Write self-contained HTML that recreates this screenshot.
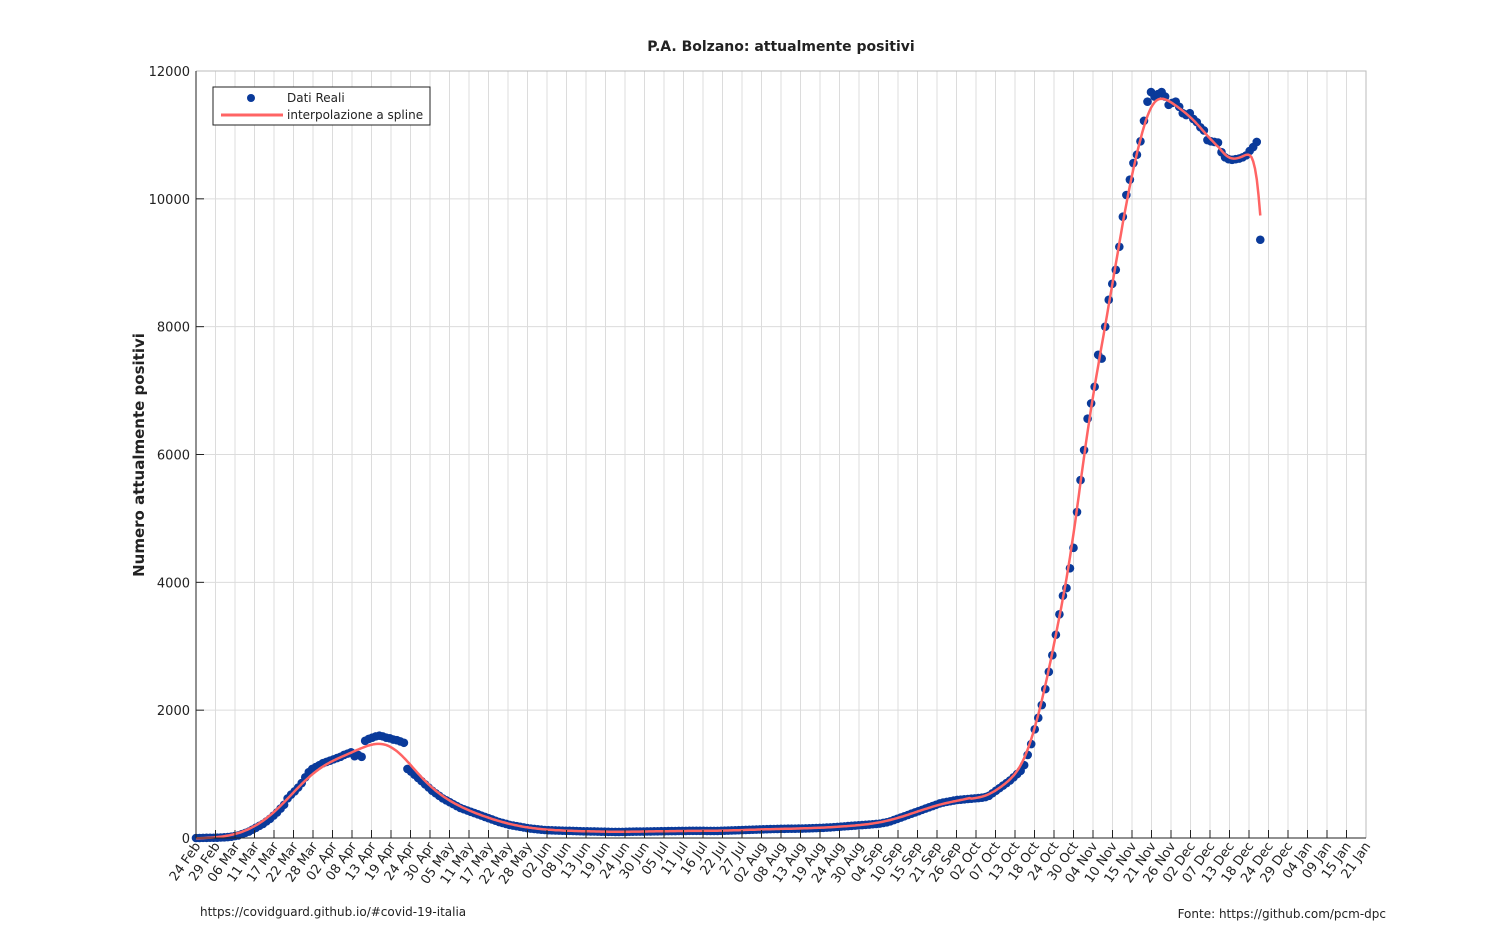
<!DOCTYPE html>
<html><head><meta charset="utf-8"><style>
html,body{margin:0;padding:0;background:#fff;}
svg{display:block;font-family:"DejaVu Sans","Liberation Sans",sans-serif;}
</style></head><body>
<svg id="chart" width="1511" height="942" viewBox="0 0 1511 942" xmlns="http://www.w3.org/2000/svg">
<rect x="0" y="0" width="1511" height="942" fill="#fff"/>
<text x="781" y="51" text-anchor="middle" font-size="14" font-weight="bold" fill="#222">P.A. Bolzano: attualmente positivi</text>
<text transform="translate(144,455) rotate(-90)" text-anchor="middle" font-size="15" font-weight="bold" fill="#222">Numero attualmente positivi</text>
<g id="grid"></g>
<g id="series"></g>
<g id="axes"></g>
<g>
<rect x="213" y="87" width="217" height="38" fill="#fff" stroke="#222" stroke-width="1"/>
<circle cx="251" cy="98" r="4" fill="#0a3a9a"/>
<text x="287" y="102" font-size="12" fill="#222">Dati Reali</text>
<line x1="221" y1="115" x2="283" y2="115" stroke="#ff6464" stroke-width="3"/>
<text x="287" y="119" font-size="12" fill="#222">interpolazione a spline</text>
</g>
<text x="200" y="916" font-size="12" fill="#222">https://covidguard.github.io/#covid-19-italia</text>
<text x="1386" y="918" text-anchor="end" font-size="12" fill="#222">Fonte: https://github.com/pcm-dpc</text>
</svg>
<script>
const xTickLabels = ["24 Feb","29 Feb","06 Mar","11 Mar","17 Mar","22 Mar","28 Mar","02 Apr","08 Apr","13 Apr","19 Apr","24 Apr","30 Apr","05 May","11 May","17 May","22 May","28 May","02 Jun","08 Jun","13 Jun","19 Jun","24 Jun","30 Jun","05 Jul","11 Jul","16 Jul","22 Jul","27 Jul","02 Aug","08 Aug","13 Aug","19 Aug","24 Aug","30 Aug","04 Sep","10 Sep","15 Sep","21 Sep","26 Sep","02 Oct","07 Oct","13 Oct","18 Oct","24 Oct","30 Oct","04 Nov","10 Nov","15 Nov","21 Nov","26 Nov","02 Dec","07 Dec","13 Dec","18 Dec","24 Dec","29 Dec","04 Jan","09 Jan","15 Jan","21 Jan"];
const yTickValues = [0,2000,4000,6000,8000,10000,12000];
const datiReali = [
0,0,2,3,4,4,5,8,10,15,
20,30,40,60,80,100,130,160,190,220,
260,300,350,400,460,520,620,680,730,790,
860,950,1030,1080,1110,1140,1170,1190,1210,1230,
1250,1270,1300,1320,1340,1280,1300,1270,1520,1550,
1570,1590,1600,1590,1570,1560,1540,1530,1510,1490,
1080,1040,990,940,890,840,790,740,700,660,
620,590,560,530,500,470,450,430,410,390,
370,350,330,310,290,270,250,235,220,205,
195,185,175,165,155,148,142,136,130,125,
122,120,118,116,115,113,112,110,108,106,
105,104,103,102,100,99,98,97,96,95,
95,96,97,98,99,100,100,101,102,103,
104,105,106,107,108,108,109,110,110,111,
112,112,113,113,112,111,110,110,111,112,
114,116,118,120,122,124,126,128,130,132,
134,136,138,140,141,142,143,144,145,145,
146,147,148,150,152,154,156,158,160,163,
166,170,174,178,182,186,190,194,198,202,
206,210,215,220,225,235,245,260,280,300,
320,340,360,380,400,420,440,460,480,500,
520,540,555,565,575,585,595,600,605,610,
615,620,625,630,640,660,700,740,780,820,
860,900,950,1000,1050,1140,1300,1470,1700,1880,
2080,2330,2600,2860,3180,3500,3790,3910,4220,4540,
5100,5600,6070,6560,6800,7060,7560,7500,8000,8420,
8670,8890,9250,9720,10060,10300,10560,10690,10900,11220,
11520,11670,11600,11640,11670,11600,11470,11500,11520,11440,
11340,11310,11340,11250,11200,11120,11070,10920,10900,10890,
10880,10730,10650,10620,10610,10620,10630,10650,10680,10750,
10810,10890,9360];
const xDomainDays = 332;
const yDomainMax = 12000;

const NS = "http://www.w3.org/2000/svg";
const L = 196, R = 1366, T = 71, B = 838;
function xScale(d){ return L + d/xDomainDays*(R-L); }
function yScale(v){ return B - v/yDomainMax*(B-T); }
function mk(tag, attrs, parent){ const e=document.createElementNS(NS,tag); for(const k in attrs) e.setAttribute(k,attrs[k]); parent.appendChild(e); return e; }
const grid=document.getElementById('grid'), axes=document.getElementById('axes'), series=document.getElementById('series');
const nT = xTickLabels.length;
for(let i=0;i<nT;i++){
  const x = L + i*(R-L)/(nT-1);
  const gl = mk('line',{x1:x,y1:T,x2:x,y2:B,stroke:'#dcdcdc','stroke-width':1},grid);
  
  
  const tk = mk('line',{x1:x,y1:B,x2:x,y2:B-8,stroke:'#222','stroke-width':1},axes);
  
  
  const t = mk('text',{transform:`translate(${x+5},${B+8}) rotate(-55)`,'text-anchor':'end','font-size':13,fill:'#222'},axes);
  t.textContent = xTickLabels[i];
  
  
}
for(const v of yTickValues){
  const y = yScale(v);
  const gl = mk('line',{x1:L,y1:y,x2:R,y2:y,stroke:'#dcdcdc','stroke-width':1},grid);
  
  
  const tk = mk('line',{x1:L,y1:y,x2:L+8,y2:y,stroke:'#222','stroke-width':1},axes);
  
  
  const t = mk('text',{x:L-6,y:y+5,'text-anchor':'end','font-size':13,fill:'#222'},axes);
  t.textContent = String(v);
  
  
}
const frame = mk('path',{d:`M${L},${T}H${R}V${B}`,fill:'none',stroke:'#bbb','stroke-width':1},axes);


const ax = mk('path',{d:`M${L},${T}V${B}H${R}`,fill:'none',stroke:'#222','stroke-width':1},axes);



datiReali.forEach((v,d)=>{
  const c = mk('circle',{cx:xScale(d),cy:yScale(v),r:4.3,fill:'#0a3a9a'},series);
  
  
});
const n = datiReali.length;
let pts = [];
for(let s=0; s<=(n-1)*2; s++){
  const x0 = s/2;
  const sig = x0 < 220 ? 5 : (x0 < 290 ? 2.5 : 1.6);
  let sw=0,sx=0,sy=0,sxx=0,sxy=0;
  for(let d=0; d<n; d++){
    const w = Math.exp(-((d-x0)*(d-x0))/(2*sig*sig));
    sw+=w; sx+=w*d; sy+=w*datiReali[d]; sxx+=w*d*d; sxy+=w*d*datiReali[d];
  }
  const mx=sx/sw, my=sy/sw, vx=sxx/sw-mx*mx, cxy=sxy/sw-mx*my;
  const val = my + (vx>1e-9 ? cxy/vx*(x0-mx) : 0);
  pts.push(xScale(x0).toFixed(1)+','+yScale(val).toFixed(1));
}
const sp = mk('polyline',{points:pts.join(' '),fill:'none',stroke:'#ff6464','stroke-width':2.5},series);


</script>
</body></html>
